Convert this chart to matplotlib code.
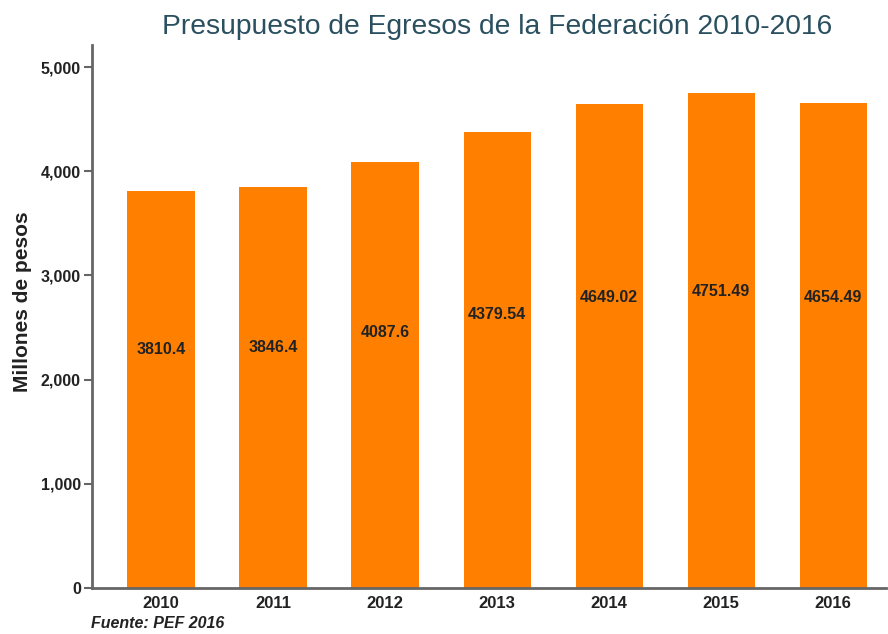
import matplotlib
matplotlib.use("Agg")
import matplotlib.pyplot as plt
from matplotlib.ticker import FuncFormatter

plt.rcParams['font.family'] = ['Liberation Sans', 'DejaVu Sans']

# data
years = ['2010', '2011', '2012', '2013', '2014', '2015', '2016']
values = [3810.4, 3846.4, 4087.6, 4379.54, 4649.02, 4751.49, 4654.49]
value_labels = ['3810.4', '3846.4', '4087.6', '4379.54', '4649.02', '4751.49', '4654.49']
yticks = [0, 1000, 2000, 3000, 4000, 5000]

fig = plt.figure(figsize=(8.88, 6.34), dpi=100)
ax = fig.add_axes([0.1036, 0.0726, 0.894, 0.856])

x = list(range(len(years)))
ax.bar(x, values, width=0.6, color='#FF8000')

# value labels sit inside the bars at ~60% of their height
for xi, v, lab in zip(x, values, value_labels):
    ax.text(xi, v * 0.6, lab, ha='center', va='center', fontsize=11.5,
            fontweight='bold', color='#222222')

ax.set_xlim(-0.616, 6.47)
ax.set_ylim(0, 5210)
ax.set_xticks(x)
ax.set_xticklabels(years, fontsize=12, fontweight='bold', color='#222222')
ax.set_yticks(yticks)
ax.yaxis.set_major_formatter(FuncFormatter(lambda v, p: f'{int(v):,}'))
for t in ax.get_yticklabels():
    t.set_fontweight('bold')
    t.set_fontsize(11.5)
    t.set_color('#222222')

ax.tick_params(axis='x', length=0, pad=6)
ax.tick_params(axis='y', length=6, width=1.5, color='#666666', pad=2)

for s in ['top', 'right']:
    ax.spines[s].set_visible(False)
for s in ['left', 'bottom']:
    ax.spines[s].set_color('#666666')
    ax.spines[s].set_linewidth(2)

ax.set_ylabel('Millones de pesos', fontsize=15, fontweight='bold', color='#222222',
              labelpad=6, y=0.527)

fig.text(0.56, 0.958, 'Presupuesto de Egresos de la Federación 2010-2016',
         ha='center', va='center', fontsize=20.3, color='#2a4f5f')
fig.text(0.102, 0.016, 'Fuente: PEF 2016', ha='left', va='center',
         fontsize=11.5, fontweight='bold', fontstyle='italic', color='#222222')

fig.savefig('out.png', dpi=100)
